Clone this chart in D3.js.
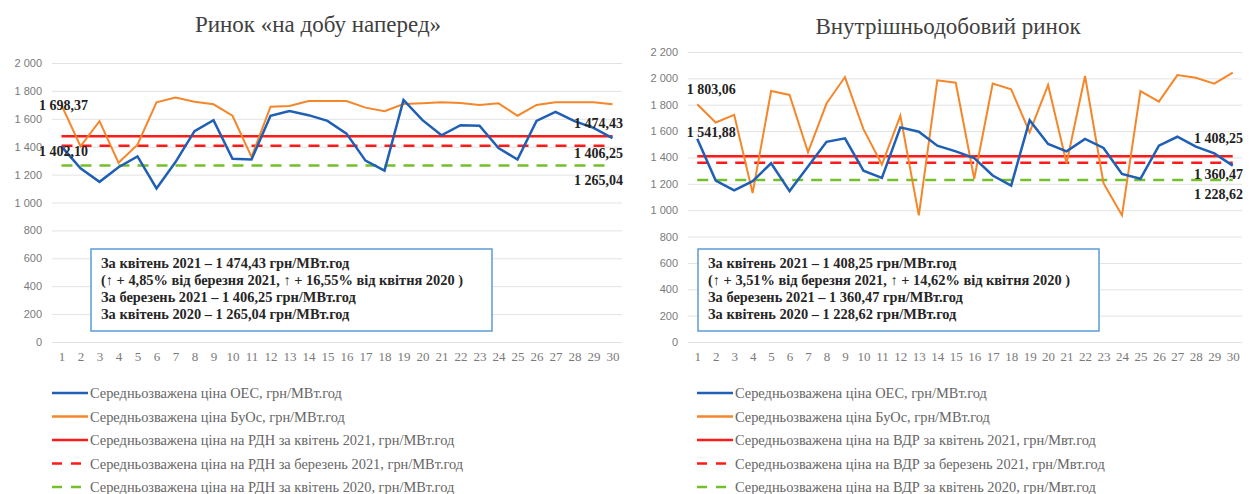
<!DOCTYPE html>
<html>
<head>
<meta charset="utf-8">
<script src="https://cdn.jsdelivr.net/npm/d3@7"></script>
<style>
  body { margin: 0; background: #fff; }
  svg { display: block; }
  .serif { font-family: "Liberation Serif", "DejaVu Serif", serif; }
  .sans { font-family: "Liberation Sans", Arial, sans-serif; }
</style>
</head>
<body>
<div id="root"></div>
<script>
// days of April 2021
const days = [1,2,3,4,5,6,7,8,9,10,11,12,13,14,15,16,17,18,19,20,21,22,23,24,25,26,27,28,29,30];

// Ринок «на добу наперед»
const rdnOes = [1402.10,1245,1148,1253,1330,1101,1290,1511,1590,1313,1308,1622,1655,1626,1585,1494,1300,1229,1735,1590,1482,1554,1550,1390,1308,1585,1650,1583,1535,1462];
const rdnBuos = [1698.37,1403,1583,1285,1415,1718,1752,1723,1704,1622,1326,1687,1692,1728,1728,1728,1680,1655,1706,1711,1718,1713,1699,1711,1622,1699,1718,1718,1718,1704];
const rdnAvg = [1474.43, 1406.25, 1265.04]; // квітень 2021, березень 2021, квітень 2020
const rdnTicks = [0,200,400,600,800,1000,1200,1400,1600,1800,2000];

// Внутрішньодобовий ринок
const vdrOes = [1541.88,1225,1150,1220,1356,1145,1331,1519,1545,1300,1245,1628,1595,1489,1446,1396,1263,1187,1683,1502,1446,1540,1472,1275,1238,1489,1557,1482,1431,1338];
const vdrBuos = [1803.06,1665,1723,1130,1904,1874,1439,1809,2010,1615,1346,1716,961,1985,1967,1238,1960,1917,1590,1950,1356,2018,1205,961,1904,1824,2025,2005,1960,2043];
const vdrAvg = [1408.25, 1360.47, 1228.62];
const vdrTicks = [0,200,400,600,800,1000,1200,1400,1600,1800,2000,2200];

const rdnNotes = [
  "За квітень 2021 – 1 474,43 грн/МВт.год",
  "(↑ +  4,85% від березня 2021, ↑ + 16,55% від квітня 2020 )",
  "За березень 2021 – 1 406,25 грн/МВт.год",
  "За квітень 2020 – 1 265,04 грн/МВт.год"
];
const vdrNotes = [
  "За квітень 2021 – 1 408,25 грн/МВт.год",
  "(↑ +  3,51% від березня 2021, ↑ + 14,62% від квітня 2020 )",
  "За березень 2021 – 1 360,47 грн/МВт.год",
  "За квітень 2020 – 1 228,62  грн/МВт.год"
];
const rdnLegend = [
  "Середньозважена ціна ОЕС, грн/МВт.год",
  "Середньозважена ціна БуОс, грн/МВт.год",
  "Середньозважена ціна на РДН за квітень 2021, грн/МВт.год",
  "Середньозважена ціна на РДН за березень 2021, грн/МВт.год",
  "Середньозважена ціна на РДН за квітень 2020, грн/МВт.год"
];
const vdrLegend = [
  "Середньозважена ціна ОЕС, грн/МВт.год",
  "Середньозважена ціна БуОс, грн/МВт.год",
  "Середньозважена ціна на ВДР за квітень 2021, грн/Мвт.год",
  "Середньозважена ціна на ВДР за березень 2021, грн/Мвт.год",
  "Середньозважена ціна на ВДР за квітень 2020, грн/Мвт.год"
];

const BLUE = "#1f5fb4", ORANGE = "#f5862a", RED = "#ff1a1a", GREEN = "#74c02a";

const fmt = v => d3.format(",.2f")(v).replace(/,/g, " ").replace(".", ",");
const fmtTick = v => d3.format(",")(v).replace(/,/g, " ");

const svg = d3.select("#root").append("svg")
  .attr("width", 1250).attr("height", 494);
svg.append("rect").attr("width", 1250).attr("height", 494).attr("fill", "#fff");

function panel(cfg) {
  const g = svg.append("g");
  const x = d3.scalePoint().domain(days).range([cfg.left, cfg.right]).padding(0.5);
  const y = d3.scaleLinear().domain([0, cfg.max]).range([342, cfg.top]);

  // title
  g.append("text").attr("class", "serif").attr("x", cfg.titleX).attr("y", cfg.titleY)
    .attr("text-anchor", "middle")
    .style("font-size", "23px").attr("fill", "#404040").text(cfg.title);

  // y axis with gridlines
  const yAxis = d3.axisLeft(y).tickValues(cfg.ticks).tickFormat(fmtTick)
    .tickSize(-(cfg.right - cfg.left)).tickPadding(10);
  const ya = g.append("g").attr("transform", `translate(${cfg.left},0)`).call(yAxis);
  ya.attr("font-family", null);
  ya.select(".domain").remove();
  ya.selectAll(".tick line").attr("stroke", "#e3e3e3").attr("stroke-width", 1);
  ya.selectAll(".tick text").attr("class", "sans").style("font-size", "11px").attr("fill", "#7a7a7a");

  // x axis labels
  const xa = g.append("g").attr("transform", "translate(0,342)")
    .call(d3.axisBottom(x).tickSize(0).tickPadding(10));
  xa.attr("font-family", null);
  xa.select(".domain").remove();
  xa.selectAll(".tick text").attr("class", "serif").style("font-size", "13px").attr("fill", "#7a7a7a");

  // annotation box
  g.append("rect").attr("x", cfg.boxX).attr("y", 249).attr("width", cfg.boxW).attr("height", 82)
    .attr("fill", "#fff").attr("stroke", "#5b9bd5").attr("stroke-width", 1.5);
  g.append("g").selectAll("text").data(cfg.notes).join("text")
    .attr("class", "serif")
    .attr("x", cfg.boxX + 10).attr("y", (d, i) => 268 + i * 17)
    .style("font-size", "14.4px").style("font-weight", "bold")
    .attr("fill", "#262626").text(d => d);

  // average lines
  const avgStyle = [
    { c: RED, dash: null },
    { c: RED, dash: "11,8" },
    { c: GREEN, dash: "11,8" }
  ];
  const hl = d3.line().x(d => x(d[0])).y(d => y(d[1]));
  cfg.avg.forEach((v, i) => {
    g.append("path").datum([[days[0], v], [days[days.length - 1], v]])
      .attr("d", hl).attr("fill", "none")
      .attr("stroke", avgStyle[i].c).attr("stroke-width", 2.5)
      .attr("stroke-dasharray", avgStyle[i].dash);
  });

  // series
  const line = d3.line().x((d, i) => x(days[i])).y(d => y(d));
  g.append("path").datum(cfg.buos).attr("d", line).attr("fill", "none")
    .attr("stroke", ORANGE).attr("stroke-width", 2);
  g.append("path").datum(cfg.oes).attr("d", line).attr("fill", "none")
    .attr("stroke", BLUE).attr("stroke-width", 2.5);

  // value labels
  const lab = (tx, ty, txt, anchor) => g.append("text").attr("class", "serif")
    .attr("x", tx).attr("y", ty)
    .attr("text-anchor", anchor || "start")
    .style("font-size", "14px").style("font-weight", "bold").attr("fill", "#222").text(txt);
  lab(x(days[0]) + cfg.firstDx, y(cfg.buos[0]) + cfg.buosDy, fmt(cfg.buos[0]), "middle");
  lab(x(days[0]) + cfg.firstDx, y(cfg.oes[0]) + cfg.oesDy, fmt(cfg.oes[0]), "middle");
  cfg.avg.forEach((v, i) => lab(cfg.right + 1, y(v) + cfg.avgDy[i], fmt(v), "end"));

  // legend
  const lg = g.append("g");
  const legStyle = [
    { c: BLUE, dash: null }, { c: ORANGE, dash: null }, { c: RED, dash: null },
    { c: RED, dash: "10,9" }, { c: GREEN, dash: "10,9" }
  ];
  cfg.legend.forEach((t, i) => {
    const ly = 393 + i * 23.5;
    lg.append("line").attr("x1", cfg.legX).attr("x2", cfg.legX + 36)
      .attr("y1", ly).attr("y2", ly)
      .attr("stroke", legStyle[i].c).attr("stroke-width", 2.5)
      .attr("stroke-dasharray", legStyle[i].dash);
    lg.append("text").attr("class", "serif").attr("x", cfg.legX + 38).attr("y", ly + 5)
      .style("font-size", "14.4px").attr("fill", "#666").text(t);
  });
}

panel({
  title: "Ринок «на добу наперед»", titleX: 318, titleY: 32,
  left: 52, right: 622, top: 63, max: 2000, ticks: rdnTicks,
  oes: rdnOes, buos: rdnBuos, avg: rdnAvg, notes: rdnNotes, legend: rdnLegend,
  boxX: 91, boxW: 401, legX: 52,
  firstDx: 2, buosDy: 5, oesDy: 10, avgDy: [-8, 12, 19]
});

panel({
  title: "Внутрішньодобовий ринок", titleX: 948, titleY: 34,
  left: 688, right: 1242, top: 52, max: 2200, ticks: vdrTicks,
  oes: vdrOes, buos: vdrBuos, avg: vdrAvg, notes: vdrNotes, legend: vdrLegend,
  boxX: 698, boxW: 401, legX: 697,
  firstDx: 14, buosDy: -10, oesDy: -2, avgDy: [-13, 16, 19]
});
</script>
</body>
</html>
